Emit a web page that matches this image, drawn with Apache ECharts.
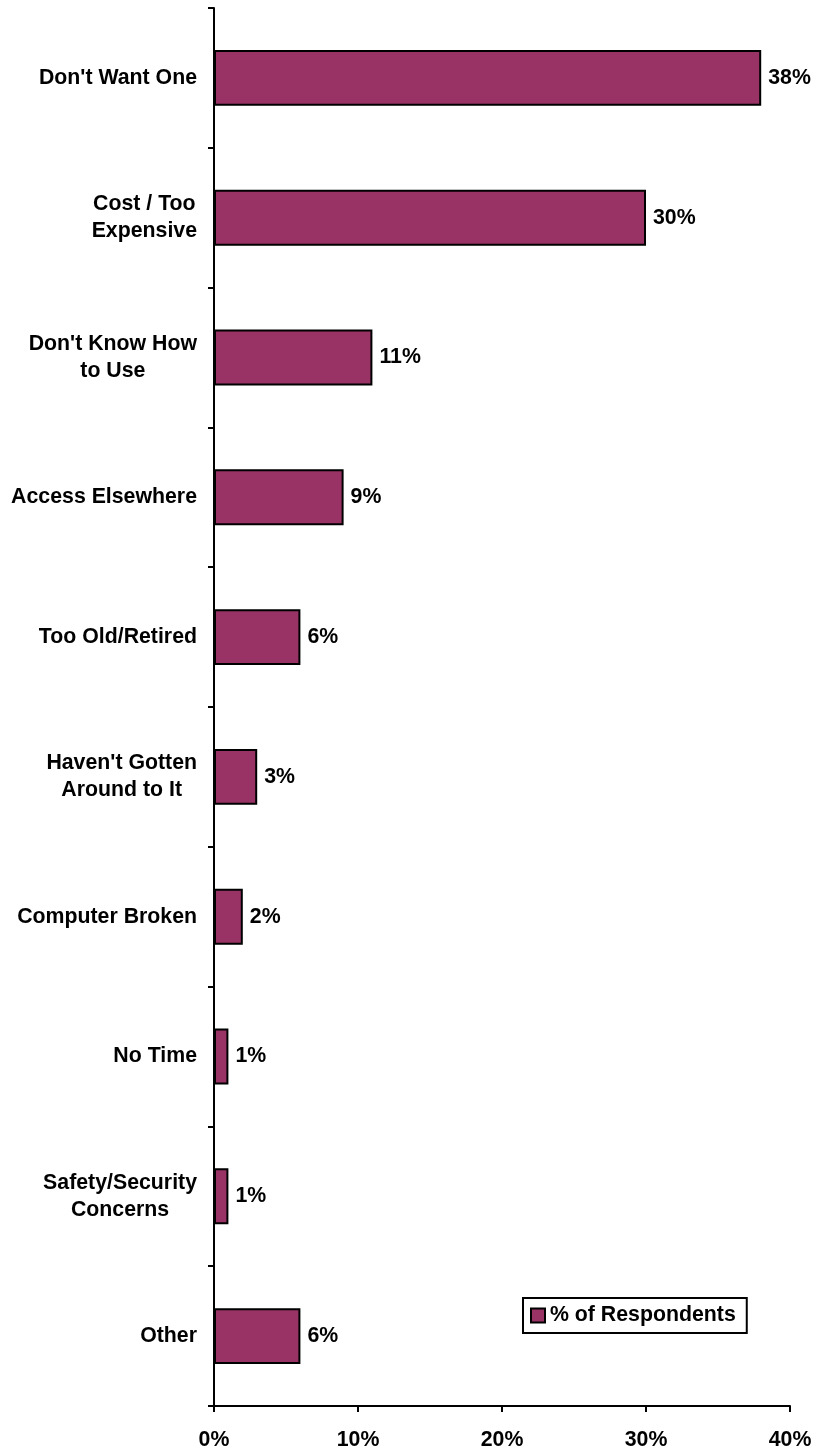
<!DOCTYPE html>
<html>
<head>
<meta charset="utf-8">
<script src="https://cdn.jsdelivr.net/npm/echarts@6/dist/echarts.min.js"></script>
<style>
html,body{margin:0;padding:0;background:#fff;}
#chart{width:819px;height:1451px;}
</style>
</head>
<body>
<div id="chart"></div>
<script>
const categories = [
  "Don't Want One",
  "Cost / Too\nExpensive",
  "Don't Know How\nto Use",
  "Access Elsewhere",
  "Too Old/Retired",
  "Haven't Gotten\nAround to It",
  "Computer Broken",
  "No Time",
  "Safety/Security\nConcerns",
  "Other"
];
const values = [38, 30, 11, 9, 6, 3, 2, 1, 1, 6];
const seriesName = "% of Respondents";
const xTicks = [0, 10, 20, 30, 40];

const FONT = '"Liberation Sans", Arial, sans-serif';
const FS = 21.3;
const chart = echarts.init(document.getElementById('chart'));
chart.setOption({
  animation: false,
  backgroundColor: '#ffffff',
  grid: { left: 214, right: 29, top: 8, bottom: 45, containLabel: false },
  legend: {
    data: [{ name: seriesName, icon: 'rect' }],
    left: 523, top: 1298,
    orient: 'horizontal',
    backgroundColor: '#ffffff',
    borderColor: '#000', borderWidth: 2,
    padding: [7, 11, 7, 7],
    itemWidth: 14, itemHeight: 14, itemGap: 5,
    textStyle: { fontFamily: FONT, fontWeight: 'bold', fontSize: FS, color: '#000' }
  },
  xAxis: {
    type: 'value',
    min: xTicks[0], max: xTicks[xTicks.length - 1], interval: 10,
    splitLine: { show: false },
    axisLine: { show: true, lineStyle: { color: '#000', width: 2 } },
    axisTick: { show: true, length: 6, lineStyle: { color: '#000', width: 2 } },
    axisLabel: {
      margin: 24,
      formatter: v => v + '%',
      fontFamily: FONT, fontWeight: 'bold', fontSize: FS, color: '#000'
    }
  },
  yAxis: {
    type: 'category',
    data: categories,
    inverse: true,
    axisLine: { show: true, lineStyle: { color: '#000', width: 2 } },
    axisTick: { show: true, length: 6, alignWithLabel: false, lineStyle: { color: '#000', width: 2 } },
    axisLabel: {
      margin: 17,
      formatter: v => v.split('\n').map(l => '{c|' + l + '}').join('\n'),
      rich: { c: { align: 'center', fontFamily: FONT, fontWeight: 'bold', fontSize: FS, color: '#000', lineHeight: 27 } },
      fontFamily: FONT, fontWeight: 'bold', fontSize: FS, color: '#000', lineHeight: 27
    }
  },
  series: [{
    name: seriesName,
    type: 'bar',
    data: values,
    barWidth: '40%',
    itemStyle: { color: '#993366', borderColor: '#000', borderWidth: 2 },
    label: {
      show: true, position: 'right', distance: 7,
      formatter: p => p.value + '%',
      fontFamily: FONT, fontWeight: 'bold', fontSize: FS, color: '#000'
    }
  }]
});
</script>
</body>
</html>
